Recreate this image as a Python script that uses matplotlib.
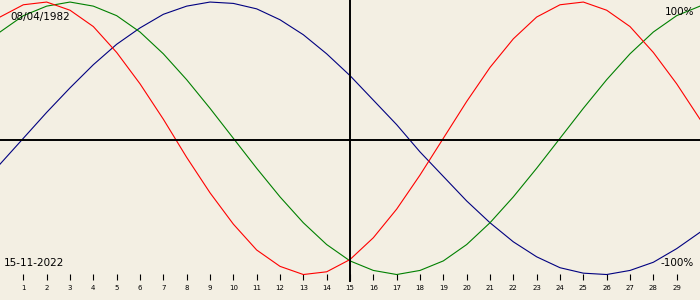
import matplotlib
matplotlib.use("Agg")
import numpy as np
from matplotlib import pyplot as plt

# biorhythm for birth date 08/04/1982, month of November 2022 (day 0 = 31 Oct)
birth_date = "08/04/1982"
today = "15-11-2022"
today_day = 15
days = list(range(0, 31))
day_labels = [str(d) for d in range(1, 30)]

# values in percent
physical = [89, 98, 100, 94, 82, 63, 40, 14, -14, -40, -63, -82, -94, -100, -98, -89,
            -73, -52, -27, 0, 27, 52, 73, 89, 98, 100, 94, 82, 63, 40, 14]
emotional = [78, 90, 97, 100, 97, 90, 78, 62, 43, 22, 0, -22, -43, -62, -78, -90,
             -97, -100, -97, -90, -78, -62, -43, -22, 0, 22, 43, 62, 78, 90, 97]
intellectual = [-19, 0, 19, 37, 54, 69, 81, 91, 97, 100, 99, 95, 87, 76, 62, 46,
                28, 10, -10, -28, -46, -62, -76, -87, -95, -99, -100, -97, -91, -81, -69]

bg = '#f3efe3'

fig = plt.figure(figsize=(7, 3), dpi=100, facecolor=bg)
ax = fig.add_axes([0, 0, 1, 1], facecolor=bg)

ax.plot(days, intellectual, color='#000080', lw=0.8)
ax.plot(days, emotional, color='#008000', lw=0.8)
ax.plot(days, physical, color='#ff0000', lw=0.8)

ax.set_xlim(0, 30)
ax.set_ylim(-118.7, 101.5)

# zero line and today marker
ax.axhline(-1.3, color='black', lw=1.4)
ax.axvline(today_day, ymin=1 - 281 / 300, ymax=1, color='black', lw=1.4)

# day ticks
for s in ['top', 'left', 'right']:
    ax.spines[s].set_visible(False)
ax.spines['bottom'].set_position(('axes', 1 - 280 / 300))
ax.spines['bottom'].set_visible(False)
ax.set_xticks(range(1, 30))
ax.set_xticklabels(day_labels)
ax.set_yticks([])
ax.tick_params(axis='x', direction='in', length=4, width=0.8, pad=3.5,
               labelsize=5, colors='black')

txt = dict(fontsize=7.5, family='DejaVu Sans', color='black', transform=ax.transAxes)
ax.text(10 / 700, 1 - 17 / 300, birth_date, ha='left', va='center', **txt)
ax.text(4 / 700, 1 - 263 / 300, today, ha='left', va='center', **txt)
ax.text(694 / 700, 1 - 12 / 300, '100%', ha='right', va='center', **txt)
ax.text(694 / 700, 1 - 263 / 300, '-100%', ha='right', va='center', **txt)

fig.savefig('out.png', dpi=100, facecolor=bg)
